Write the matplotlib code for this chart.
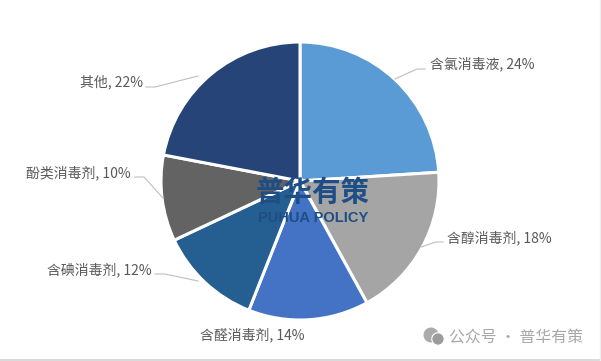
import matplotlib
matplotlib.use('Agg')
import matplotlib.pyplot as plt
from matplotlib.patches import Circle

plt.rcParams['font.family'] = ['Noto Sans CJK SC', 'DejaVu Sans']

categories = ['含氯消毒液', '含醇消毒剂', '含醛消毒剂', '含碘消毒剂', '酚类消毒剂', '其他']
shares = [24, 18, 14, 12, 10, 22]
colors = ['#5B9BD5', '#A5A5A5', '#4472C4', '#255E91', '#636363', '#264478']

W, H = 601, 361
CX, CY, R = 300, 181, 139
# label centre (px), leader polyline (px)
label_pos = [(482, 64), (499, 238), (252, 335), (99, 270), (78, 173), (112, 82)]
leaders = [
    [(425, 69), (417, 69), (395, 79)],
    [(443, 242), (436, 242), (421, 247)],
    None,
    [(155, 274), (165, 274), (198, 281)],
    [(135, 177), (144, 177), (163, 198)],
    [(146, 87), (155, 87), (198, 76)],
]

fig = plt.figure(figsize=(W / 100, H / 100), dpi=100, facecolor='white')
ax = fig.add_axes([0, 0, 1, 1])

ax.pie(shares, colors=colors, startangle=90, counterclock=False,
       center=(CX, H - CY), radius=R, frame=True,
       wedgeprops=dict(edgecolor='white', linewidth=2.2))
ax.set_xlim(0, W)
ax.set_ylim(0, H)
ax.axis('off')

for name, v, (x, y), pts in zip(categories, shares, label_pos, leaders):
    ax.text(x, H - y, f'{name}, {v}%', ha='center', va='center', fontsize=10, color='#595959')
    if pts:
        ax.plot([p[0] for p in pts], [H - p[1] for p in pts], color='#BFBFBF', lw=0.8)

ax.text(313, H - 193, '普华有策', ha='center', va='center', fontsize=20.5, fontweight='bold', color='#1F4E86')
ax.text(313, H - 218, 'PUHUA POLICY', ha='center', va='center', fontsize=10.5, fontweight='bold',
        color='#1F4E86', family='Liberation Sans')

# WeChat-style footer
ax.text(516, H - 337, '公众号 · 普华有策', ha='center', va='center', fontsize=11.4, color='#A8A8A8')
ax.add_patch(Circle((431, H - 335), 7.5, fc='#ABABAB', ec='none'))
ax.add_patch(Circle((438, H - 339), 6.2, fc='#9C9C9C', ec='white', lw=0.8))

# thin grey page edge at the bottom and right
ax.plot([0, W], [0.8, 0.8], color='#DADADA', lw=1.5)
ax.plot([W - 0.8, W - 0.8], [0, H], color='#EFEFEF', lw=1)

fig.savefig('out.png', dpi=100, facecolor='white')
